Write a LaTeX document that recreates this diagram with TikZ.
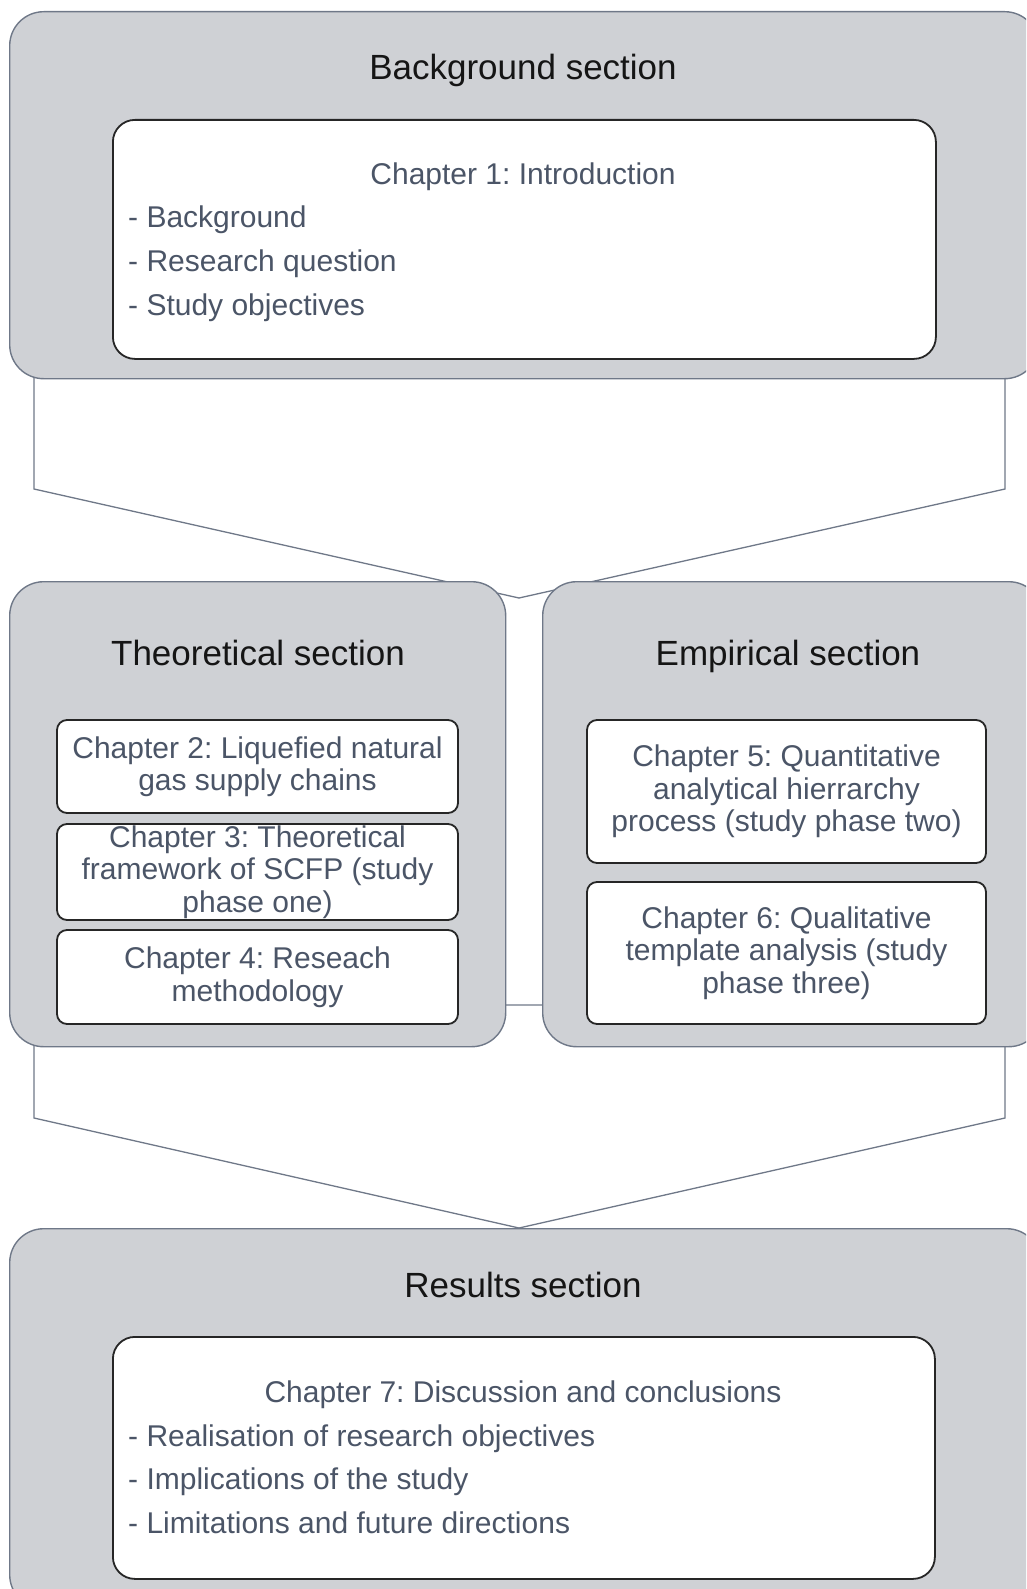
\documentclass[tikz,border=0pt]{standalone}
\usepackage{fontspec}
\setmainfont{Liberation Sans}
\frenchspacing
\definecolor{secfill}{HTML}{CFD1D5}
\definecolor{secedge}{HTML}{6F7888}
\definecolor{chaptext}{HTML}{4B5567}
\definecolor{headtext}{HTML}{151515}
\definecolor{chapedge}{HTML}{262626}
\begin{document}
\begin{tikzpicture}[x=1pt,y=-1pt,
  section/.style={draw=secedge, fill=secfill, line width=1.4pt,
    rounded corners=34pt, anchor=north west, inner sep=0pt},
  funnel/.style={draw=secedge, fill=white, line width=1.3pt, line join=miter},
  chapbox/.style={draw=chapedge, fill=white, line width=1.8pt,
    rounded corners=10pt, inner sep=0pt, align=center, text=chaptext,
    font=\fontsize{30}{32.5}\selectfont},
  bigchap/.style={draw=chapedge, fill=white, line width=1.8pt,
    rounded corners=22pt, inner sep=0pt, anchor=north west},
  head/.style={text=headtext, font=\fontsize{35}{40}\selectfont, anchor=base, inner sep=0pt},
  chaptitle/.style={text=chaptext, font=\fontsize{30}{34}\selectfont, anchor=base, inner sep=0pt},
  item/.style={text=chaptext, font=\fontsize{30}{34}\selectfont, anchor=base west, inner sep=0pt}
]
\clip (0,0) rectangle (1026,1589);

% funnels joining the sections
\draw[funnel] (34,300) -- (34,489) -- (519,598) -- (1005,489) -- (1005,300) -- cycle;
\draw[funnel] (34,1005) -- (34,1118) -- (519,1228) -- (1005,1118) -- (1005,1005) -- cycle;

% background section
\node[section, minimum width=1029pt, minimum height=367pt] (bg) at (9,11) {};
\node[head] (bghead) at (523,80) {Background section};
\node[bigchap, minimum width=823pt, minimum height=239pt] (ch1) at (112,119) {};
\node[chaptitle] (ch1title) at (523,185) {Chapter 1: Introduction};
\node[item] (ch1a) at (128,228) {- Background};
\node[item] (ch1b) at (128,271.5) {- Research question};
\node[item] (ch1c) at (128,315) {- Study objectives};

% theoretical section
\node[section, minimum width=496pt, minimum height=465pt] (theo) at (9,581) {};
\node[head] (theohead) at (258,665) {Theoretical section};
\node[chapbox, minimum width=401pt, minimum height=93pt] (ch2) at (257.5,766.5)
  {Chapter 2: Liquefied natural\\gas supply chains};
\node[chapbox, minimum width=401pt, minimum height=96pt] (ch3) at (257.5,872)
  {Chapter 3: Theoretical\\framework of SCFP (study\\phase one)};
\node[chapbox, minimum width=401pt, minimum height=94pt] (ch4) at (257.5,977)
  {Chapter 4: Reseach\\methodology};

% empirical section
\node[section, minimum width=500pt, minimum height=465pt] (emp) at (542,581) {};
\node[head] (emphead) at (788,665) {Empirical section};
\node[chapbox, minimum width=399pt, minimum height=143pt] (ch5) at (786.5,791.5)
  {Chapter 5: Quantitative\\analytical hierrarchy\\process (study phase two)};
\node[chapbox, minimum width=399pt, minimum height=142pt] (ch6) at (786.5,953)
  {Chapter 6: Qualitative\\template analysis (study\\phase three)};

% results section
\node[section, minimum width=1031pt, minimum height=380pt] (res) at (9,1228) {};
\node[head] (reshead) at (523,1297) {Results section};
\node[bigchap, minimum width=822pt, minimum height=242pt] (ch7) at (112,1336) {};
\node[chaptitle] (ch7title) at (523,1402) {Chapter 7: Discussion and conclusions};
\node[item] (ch7a) at (128,1446) {- Realisation of research objectives};
\node[item] (ch7b) at (128,1489.5) {- Implications of the study};
\node[item] (ch7c) at (128,1533) {- Limitations and future directions};
\end{tikzpicture}
\end{document}
